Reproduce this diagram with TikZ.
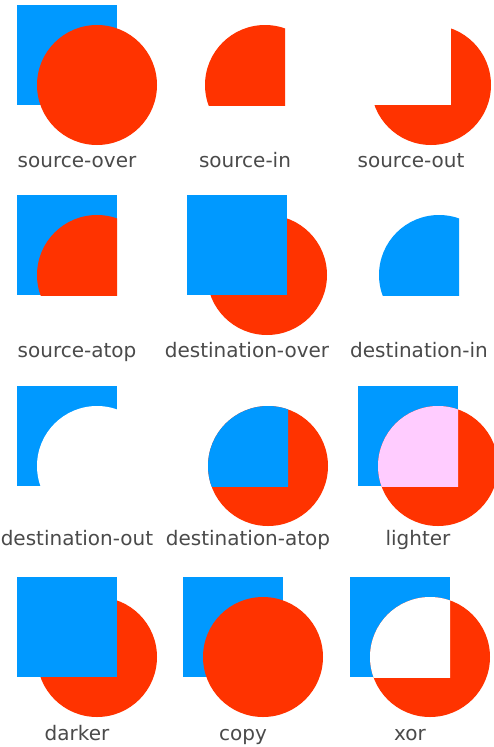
\documentclass[tikz,border=0pt]{standalone}
\usepackage{fontspec}
\setmainfont{DejaVu Sans}
\usepackage{tikz}
\usepackage{xcolor}

\definecolor{dstblue}{HTML}{0099FF}
\definecolor{srcred}{HTML}{FF3300}
\definecolor{mixpink}{HTML}{FFCCFF}
\definecolor{labelgray}{HTML}{4A4A4A}

\tikzset{
  dst/.style={fill=dstblue},
  src/.style={fill=srcred},
  hole/.style={fill=white},
  lbl/.style={anchor=base, text=labelgray, font=\fontsize{20}{24}\selectfont, inner sep=0pt}
}

\begin{document}
\begin{tikzpicture}[x=1pt,y=-1pt]
  \useasboundingbox[fill=white] (0,0) rectangle (494,747);

  % row 1
  \begin{scope}[shift={(17,5)}]
    \fill[dst] (0,0) rectangle (100,100);
    \fill[src] (80,80) circle (60);
    \node[lbl] (sover) at (60,162) {source-over};
  \end{scope}
  \begin{scope}[shift={(185,5)}]
    \begin{scope}
      \clip (0,0) rectangle (100,100);
      \fill[src] (80,80) circle (60);
    \end{scope}
    \node[lbl] (sin) at (60,162) {source-in};
  \end{scope}
  \begin{scope}[shift={(351,5)}]
    \fill[src] (80,80) circle (60);
    \fill[hole] (0,0) rectangle (100,100);
    \node[lbl] (sout) at (60,162) {source-out};
  \end{scope}

  % row 2
  \begin{scope}[shift={(17,195)}]
    \fill[dst] (0,0) rectangle (100,100);
    \begin{scope}
      \clip (0,0) rectangle (100,100);
      \fill[src] (80,80) circle (60);
    \end{scope}
    \node[lbl] (satop) at (60,162) {source-atop};
  \end{scope}
  \begin{scope}[shift={(187,195)}]
    \fill[src] (80,80) circle (60);
    \fill[dst] (0,0) rectangle (100,100);
    \node[lbl] (dover) at (60,162) {destination-over};
  \end{scope}
  \begin{scope}[shift={(359,195)}]
    \begin{scope}
      \clip (0,0) rectangle (100,100);
      \fill[dst] (80,80) circle (60);
    \end{scope}
    \node[lbl] (din) at (60,162) {destination-in};
  \end{scope}

  % row 3
  \begin{scope}[shift={(17,386)}]
    \fill[dst] (0,0) rectangle (100,100);
    \fill[hole] (80,80) circle (60);
    \node[lbl] (dout) at (60,159) {destination-out};
  \end{scope}
  \begin{scope}[shift={(188,386)}]
    \fill[src] (80,80) circle (60);
    \begin{scope}
      \clip (0,0) rectangle (100,100);
      \fill[dst] (80,80) circle (60);
    \end{scope}
    \node[lbl] (datop) at (60,159) {destination-atop};
  \end{scope}
  \begin{scope}[shift={(358,386)}]
    \fill[dst] (0,0) rectangle (100,100);
    \fill[src] (80,80) circle (60);
    \begin{scope}
      \clip (0,0) rectangle (100,100);
      \fill[mixpink] (80,80) circle (60);
    \end{scope}
    \node[lbl] (light) at (60,159) {lighter};
  \end{scope}

  % row 4
  \begin{scope}[shift={(17,577)}]
    \fill[src] (80,80) circle (60);
    \fill[dst] (0,0) rectangle (100,100);
    \node[lbl] (dark) at (60,163) {darker};
  \end{scope}
  \begin{scope}[shift={(183,577)}]
    \fill[dst] (0,0) rectangle (100,100);
    \fill[src] (80,80) circle (60);
    \node[lbl] (copy) at (60,163) {copy};
  \end{scope}
  \begin{scope}[shift={(350,577)}]
    \fill[dst] (0,0) rectangle (100,100);
    \fill[src] (80,80) circle (60);
    \begin{scope}
      \clip (0,0) rectangle (100,100);
      \fill[hole] (80,80) circle (60);
    \end{scope}
    \node[lbl] (xor) at (60,163) {xor};
  \end{scope}
\end{tikzpicture}
\end{document}
